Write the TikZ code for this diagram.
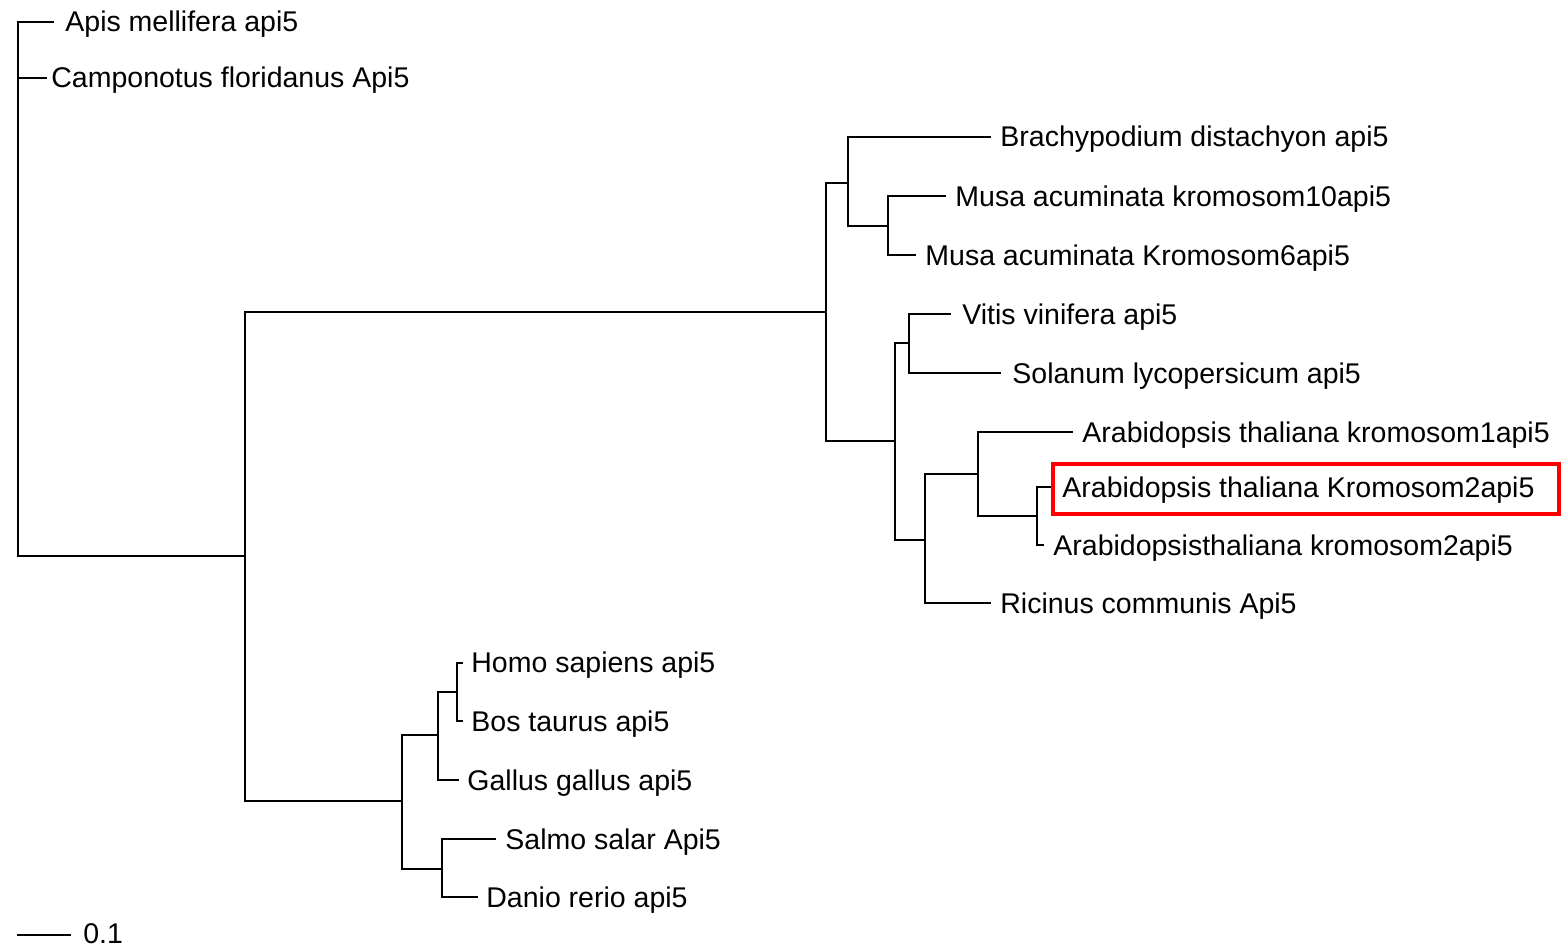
\documentclass[tikz,border=0pt]{standalone}
\usepackage{fontspec}
\setmainfont{Liberation Sans}
\begin{document}
\begin{tikzpicture}[x=0.5pt,y=-0.5pt,
  branch/.style={line width=1.25pt,black,line cap=rect},
  lbl/.style={anchor=base west,inner sep=0pt,font=\fontsize{14.25pt}{17pt}\selectfont},
  hilite/.style={draw=red,line width=1.6pt}]
\useasboundingbox (0,0) rectangle (1561,947);
% internal nodes
\coordinate (r)  at (18,556);
\coordinate (n1) at (245,556);
\coordinate (nP) at (826,312);
\coordinate (nA) at (848,183);
\coordinate (nM) at (888,226);
\coordinate (nB) at (895,441);
\coordinate (nC) at (909,343);
\coordinate (nD) at (925,540);
\coordinate (nE) at (978,474);
\coordinate (nF) at (1037,516);
\coordinate (nV) at (402,801);
\coordinate (nG) at (438,735);
\coordinate (nI) at (457,692);
\coordinate (nH) at (442,869);
% tips
\coordinate (tApis) at (53,22);
\coordinate (tCamp) at (46,78);
\coordinate (tBrach) at (990,137);
\coordinate (tMusaA) at (945,196);
\coordinate (tMusaB) at (915,255);
\coordinate (tVitis) at (950,314);
\coordinate (tSol) at (1000,373);
\coordinate (tAtA) at (1072,432);
\coordinate (tAtB) at (1052,487);
\coordinate (tAtC) at (1043,545);
\coordinate (tRic) at (990,603);
\coordinate (tHomo) at (462,663);
\coordinate (tBos) at (462,721);
\coordinate (tGal) at (458,780);
\coordinate (tSalmo) at (495,839);
\coordinate (tDanio) at (477,897);
% labels
\node[lbl] (lApis) at (65,32) {Apis mellifera api5};
\node[lbl] (lCamp) at (51,88) {Camponotus floridanus Api5};
\node[lbl] (lBrach) at (1000,147) {Brachypodium distachyon api5};
\node[lbl] (lMusaA) at (955,206) {Musa acuminata kromosom10api5};
\node[lbl] (lMusaB) at (925,265) {Musa acuminata Kromosom6api5};
\node[lbl] (lVitis) at (962,324) {Vitis vinifera api5};
\node[lbl] (lSol) at (1012,383) {Solanum lycopersicum api5};
\node[lbl] (lAtA) at (1082,442) {Arabidopsis thaliana kromosom1api5};
\node[lbl] (lAtB) at (1062,497) {Arabidopsis thaliana Kromosom2api5};
\node[lbl] (lAtC) at (1053,555) {Arabidopsisthaliana kromosom2api5};
\node[lbl] (lRic) at (1000,613) {Ricinus communis Api5};
\node[lbl] (lHomo) at (471,672) {Homo sapiens api5};
\node[lbl] (lBos) at (471,731) {Bos taurus api5};
\node[lbl] (lGal) at (467,790) {Gallus gallus api5};
\node[lbl] (lSalmo) at (505,849) {Salmo salar Api5};
\node[lbl] (lDanio) at (486,907) {Danio rerio api5};
% branches
\draw[branch] (r) |- (tApis);
\draw[branch] (r) |- (tCamp);
\draw[branch] (r) -- (n1);
\draw[branch] (n1) |- (nP);
\draw[branch] (n1) |- (nV);
\draw[branch] (nP) |- (nA);
\draw[branch] (nP) |- (nB);
\draw[branch] (nA) |- (tBrach);
\draw[branch] (nA) |- (nM);
\draw[branch] (nM) |- (tMusaA);
\draw[branch] (nM) |- (tMusaB);
\draw[branch] (nB) |- (nC);
\draw[branch] (nB) |- (nD);
\draw[branch] (nC) |- (tVitis);
\draw[branch] (nC) |- (tSol);
\draw[branch] (nD) |- (nE);
\draw[branch] (nD) |- (tRic);
\draw[branch] (nE) |- (tAtA);
\draw[branch] (nE) |- (nF);
\draw[branch] (nF) |- (tAtB);
\draw[branch] (nF) |- (tAtC);
\draw[branch] (nV) |- (nG);
\draw[branch] (nV) |- (nH);
\draw[branch] (nG) |- (nI);
\draw[branch] (nG) |- (tGal);
\draw[branch] (nI) |- (tHomo);
\draw[branch] (nI) |- (tBos);
\draw[branch] (nH) |- (tSalmo);
\draw[branch] (nH) |- (tDanio);
% highlight box
\coordinate (bx0) at (1053,464);
\coordinate (bx1) at (1559,514);
\draw[hilite] (bx0) rectangle (bx1);
% scale bar
\coordinate (s0) at (18,935);
\coordinate (s1) at (70,935);
\draw[branch] (s0) -- (s1);
\node[lbl] (sl) at (83,943) {0.1};
\end{tikzpicture}
\end{document}
